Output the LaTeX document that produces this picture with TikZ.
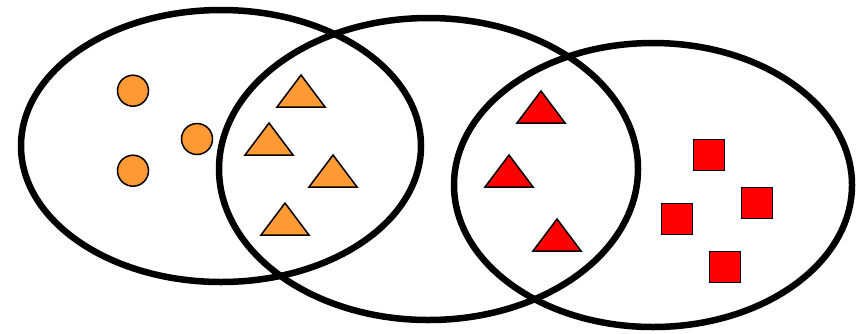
\documentclass[tikz,border=0pt]{standalone}
\usetikzlibrary{positioning}
\definecolor{setorange}{HTML}{FF9933}
\definecolor{setred}{HTML}{FF0000}
\begin{document}
\begin{tikzpicture}[x=1pt, y=-1pt]
        \tikzstyle{setline} = [draw=black, line width=6.5pt]
        \tikzstyle{dotbox} = [draw=black, line width=1.5pt, fill=setorange, circle, minimum size=31pt, inner sep=0pt]
        \tikzstyle{sqbox} = [draw=black, line width=1.5pt, fill=setred, rectangle, minimum size=31pt, inner sep=0pt]
        \tikzstyle{tribox} = [draw=black, line width=1.5pt, line join=miter]

        \useasboundingbox (0,0) rectangle (858,333);

        % the three sets
        \draw[setline] (221,146) ellipse [x radius=200, y radius=136];
        \draw[setline] (428.5,169) ellipse [x radius=209.5, y radius=151];
        \draw[setline] (653,185) ellipse [x radius=199, y radius=142];

        % circles
        \node[dotbox] (c1) at (133,90.7) {};
        \node[dotbox] (c2) at (197,139) {};
        \node[dotbox] (c3) at (133,170.7) {};

        % orange triangles (apex given)
        \foreach \x/\y in {301/75, 269/123, 333/155, 285/203}
            \draw[tribox, fill=setorange] (\x,\y) -- ++(24,32) -- ++(-48,0) -- cycle;

        % red triangles
        \foreach \x/\y in {541/91, 509/155, 557/219}
            \draw[tribox, fill=setred] (\x,\y) -- ++(24,32) -- ++(-48,0) -- cycle;

        % squares
        \node[sqbox] (q1) at (709,155) {};
        \node[sqbox] (q2) at (757,203) {};
        \node[sqbox] (q3) at (677,219) {};
        \node[sqbox] (q4) at (725,267) {};
    \end{tikzpicture}
\end{document}
